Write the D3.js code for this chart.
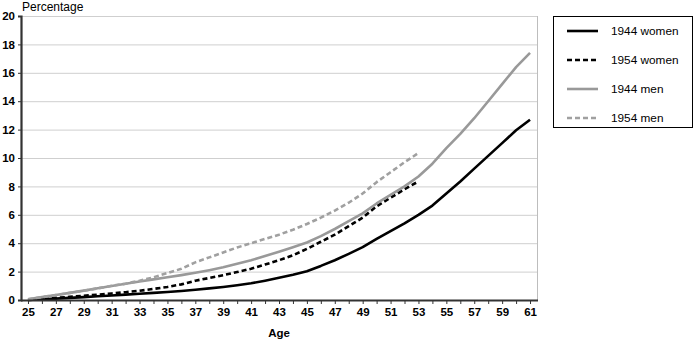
<!DOCTYPE html>
<html>
<head>
<meta charset="utf-8">
<script src="https://cdn.jsdelivr.net/npm/d3@7"></script>
<style>
  html, body { margin: 0; padding: 0; background: #fff; }
  svg { display: block; font-family: "Liberation Sans", Arial, Helvetica, sans-serif; }
</style>
</head>
<body>
<svg id="chart" width="700" height="340"></svg>
<script>
// Ages on the category axis
const ages = d3.range(25, 62);
const ageTickLabels = d3.range(25, 62, 2);
const yTicks = d3.range(0, 21, 2);

// Cumulative percentage by age
const women1944 = [0.0, 0.05, 0.1, 0.15, 0.2, 0.26, 0.32, 0.38, 0.44, 0.5, 0.56, 0.63, 0.72, 0.82, 0.92, 1.04, 1.18, 1.36, 1.56, 1.78, 2.03, 2.4, 2.8, 3.25, 3.72, 4.3, 4.85, 5.4, 6.0, 6.65, 7.5, 8.35, 9.25, 10.15, 11.05, 11.95, 12.7];
const women1954 = [0.0, 0.08, 0.15, 0.22, 0.3, 0.38, 0.46, 0.55, 0.65, 0.78, 0.92, 1.1, 1.36, 1.55, 1.75, 1.97, 2.2, 2.5, 2.8, 3.15, 3.6, 4.1, 4.6, 5.2, 5.8, 6.6, 7.2, 7.8, 8.35];
const men1944 = [0.05, 0.2, 0.35, 0.5, 0.66, 0.83, 0.99, 1.14, 1.3, 1.45, 1.6, 1.75, 1.92, 2.1, 2.3, 2.55, 2.8, 3.1, 3.4, 3.72, 4.05, 4.5, 5.0, 5.55, 6.1, 6.8, 7.4, 8.0, 8.7, 9.6, 10.7, 11.7, 12.8, 14.0, 15.2, 16.4, 17.4];
const men1954 = [0.05, 0.2, 0.35, 0.5, 0.65, 0.82, 1.0, 1.15, 1.35, 1.6, 1.9, 2.2, 2.65, 3.0, 3.35, 3.7, 4.0, 4.3, 4.6, 4.95, 5.35, 5.8, 6.3, 6.85, 7.5, 8.3, 9.0, 9.7, 10.35];

const seriesNames = ["1944 women", "1954 women", "1944 men", "1954 men"];
const seriesValues = [women1944, women1954, men1944, men1954];
const seriesColors = ["#000000", "#000000", "#999999", "#a0a0a0"];
const seriesDash = [null, "5,3", null, "5,3"];

const svg = d3.select("#chart");
const plot = { left: 21, right: 537, top: 16, bottom: 300 };

const x = d3.scalePoint().domain(ages).range([plot.left, plot.right]).padding(0.5);
const y = d3.scaleLinear().domain([0, 20]).range([plot.bottom, plot.top]);

// Horizontal gridlines
svg.append("g")
  .selectAll("line")
  .data(yTicks.filter(d => d > 0))
  .join("line")
  .attr("x1", plot.left).attr("x2", plot.right)
  .attr("y1", d => y(d) + 0.5).attr("y2", d => y(d) + 0.5)
  .attr("stroke", "#cfcfcf").attr("stroke-width", 1);

// Right frame edge
svg.append("line")
  .attr("x1", plot.right + 0.5).attr("x2", plot.right + 0.5)
  .attr("y1", plot.top).attr("y2", plot.bottom)
  .attr("stroke", "#bdbdbd").attr("stroke-width", 1);

// Lines
const line = d3.line().x((d, i) => x(ages[i])).y(d => y(d));
seriesValues.forEach((vals, k) => {
  svg.append("path")
    .datum(vals)
    .attr("fill", "none")
    .attr("stroke", seriesColors[k])
    .attr("stroke-width", 2.6)
    .attr("stroke-linejoin", "round")
    .attr("stroke-dasharray", seriesDash[k])
    .attr("d", line);
});

// Y axis
const yAxis = svg.append("g")
  .attr("transform", `translate(${plot.left},0)`)
  .call(d3.axisLeft(y).tickValues(yTicks).tickSize(3).tickPadding(3));
yAxis.select(".domain").attr("stroke", "#333").attr("stroke-width", 2.2);
yAxis.selectAll(".tick line").attr("stroke", "#333");
yAxis.selectAll(".tick text")
  .attr("font-size", 11.5).attr("font-weight", "bold").attr("fill", "#000")
  .attr("font-family", "'Liberation Sans', Arial, sans-serif");

// X axis
const xAxis = svg.append("g")
  .attr("transform", `translate(0,${plot.bottom})`)
  .call(d3.axisBottom(x).tickSize(4).tickPadding(4)
    .tickFormat(d => ageTickLabels.includes(d) ? d : ""));
xAxis.select(".domain").attr("stroke", "#333").attr("stroke-width", 2)
  .attr("d", `M${plot.left},0.5H${plot.right + 1}`);
xAxis.selectAll(".tick line").attr("stroke", "#333");
xAxis.selectAll(".tick text")
  .attr("font-size", 11.5).attr("font-weight", "bold").attr("fill", "#000")
  .attr("font-family", "'Liberation Sans', Arial, sans-serif");

// Axis titles
svg.append("text")
  .attr("x", 22).attr("y", 11)
  .attr("font-size", 12).text("Percentage");
svg.append("text")
  .attr("x", (plot.left + plot.right) / 2).attr("y", 337)
  .attr("text-anchor", "middle")
  .attr("font-size", 11.5).attr("font-weight", "bold").text("Age");

// Legend
const legend = svg.append("g");
legend.append("rect")
  .attr("x", 553.5).attr("y", 16.5).attr("width", 139).attr("height", 111)
  .attr("fill", "#fff").attr("stroke", "#000").attr("stroke-width", 1);
seriesNames.forEach((name, k) => {
  const cy = 31 + k * 29;
  legend.append("line")
    .attr("x1", 567).attr("x2", 598).attr("y1", cy).attr("y2", cy)
    .attr("stroke", seriesColors[k]).attr("stroke-width", 2.6)
    .attr("stroke-dasharray", seriesDash[k]);
  legend.append("text")
    .attr("x", 611).attr("y", cy + 4)
    .attr("font-size", 11.8).text(name);
});
</script>
</body>
</html>
